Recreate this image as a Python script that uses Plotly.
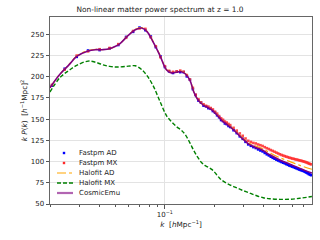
import plotly.graph_objects as go

# ---------------- data ----------------
k_fastpm = [0.0205, 0.0245, 0.029, 0.034, 0.040, 0.046, 0.052, 0.058, 0.064, 0.070,
            0.076, 0.082, 0.088, 0.094, 0.100, 0.106, 0.112, 0.118, 0.124, 0.130,
            0.136, 0.142, 0.148, 0.154, 0.160, 0.166, 0.172, 0.178, 0.184, 0.190,
            0.196, 0.202, 0.208, 0.214, 0.220, 0.226, 0.232, 0.238, 0.244, 0.250,
            0.262, 0.274, 0.286, 0.298, 0.310, 0.322, 0.334, 0.346, 0.358, 0.370,
            0.382, 0.394, 0.406, 0.418, 0.430, 0.442, 0.454, 0.466, 0.478, 0.490,
            0.502, 0.514, 0.526, 0.538, 0.550, 0.562, 0.574, 0.586, 0.598, 0.610,
            0.622, 0.634, 0.646, 0.658, 0.670, 0.682, 0.694, 0.706, 0.718, 0.730,
            0.742, 0.754, 0.766, 0.778]

kp_fastpm_ad = [189.5, 209.5, 223.5, 231, 231.5, 233.5, 237.5, 247, 253, 258,
                255, 247.5, 235, 224, 211.5, 206.5, 204.5, 206, 205.5, 205.5,
                200.5, 196.5, 185.5, 178.5, 172, 169.5, 166, 165.2, 163, 162.3,
                159.6, 157.8, 154.6, 152.3, 149, 147.8, 145, 144.2, 142, 140.8,
                137, 133.6, 129.8, 126.9, 123.3, 120.3, 118.6, 117.1, 116, 114.4,
                113.1, 112, 110.2, 108.6, 107.3, 105.8, 104.5, 103.4, 102.3, 101.3,
                100.4, 99.5, 98.7, 97.9, 97, 96.2, 95.3, 94.7, 94.1, 93.4,
                92.7, 92.1, 91.4, 90.7, 90.2, 89.6, 89.1, 88.5, 87.8, 87,
                86.2, 85.3, 84.7, 84]

kp_fastpm_mx = [190.5, 208.5, 225, 230, 232.5, 234, 238.5, 246, 254, 257,
                256.5, 246.5, 236, 223, 212.5, 207, 205.8, 206.5, 207.3, 206,
                202, 196.8, 187, 178.8, 173.5, 169.8, 167.6, 165.8, 164.8, 163.2,
                161.5, 158.8, 156.5, 153.6, 151, 149.3, 147.2, 146, 144.4, 143,
                139.8, 136.5, 133.2, 130.4, 127.2, 124.5, 123.2, 122, 121.4, 120.2,
                119.3, 118.4, 117, 115.8, 114.8, 113.6, 112.6, 111.6, 110.6, 109.6,
                108.6, 107.8, 107.1, 106.4, 105.8, 105.2, 104.6, 104.1, 103.6, 103.2,
                102.8, 102.4, 102, 101.6, 101.2, 100.8, 100.4, 100, 99.5, 99,
                98.4, 97.7, 97.3, 96.8]

k_theory = [0.0199, 0.0229, 0.026, 0.029, 0.034, 0.038, 0.042, 0.046, 0.050, 0.0535,
            0.0585, 0.0615, 0.066, 0.0721, 0.078, 0.085, 0.0933, 0.1024, 0.1098, 0.118,
            0.126, 0.134, 0.142, 0.150, 0.158, 0.167, 0.175, 0.184, 0.193, 0.2018,
            0.212, 0.2218, 0.2433, 0.2673, 0.2936, 0.3225, 0.354, 0.397, 0.436, 0.502,
            0.578, 0.665, 0.787]

kp_halofit_ad = [187, 203, 214.5, 224.5, 231, 232.5, 232, 233, 236, 239.5,
                 247.5, 251.5, 256, 258, 253.5, 241, 225.5, 208.5, 205, 206,
                 206.5, 203.5, 196.5, 182.5, 174, 169, 166, 164, 161.5, 158,
                 153.5, 149.2, 143.3, 136.8, 129, 122.3, 118.6, 115, 110.3, 104.6,
                 100, 95.5, 91]

kp_halofit_mx = [182, 199, 207.5, 213.5, 218.5, 217, 214, 212.3, 211.5, 211.7,
                 212.3, 212.8, 213, 208.5, 201, 189, 171, 154, 147, 141,
                 137, 131, 122, 113, 105.5, 99, 95.5, 93.3, 90.8, 87,
                 82, 78.2, 73.5, 70, 66.5, 63.5, 60.5, 57.4, 56.2, 55.5,
                 55.6, 56.8, 58.8]

kp_cosmicemu = [187, 203, 214, 224, 230.5, 232, 232, 233, 236, 239.5,
                247, 251, 255.5, 257.5, 253, 240.5, 225, 208, 204.6, 205.5,
                206, 203, 196, 182, 173.5, 168.5, 165.5, 163.5, 161, 157.5,
                153, 148.6, 142.7, 136, 128, 121, 117, 113, 108, 102,
                97, 92, 86.5]

series_names = ["Fastpm AD", "Fastpm MX", "Halofit AD", "Halofit MX", "CosmicEmu"]
y_ticks = [50, 75, 100, 125, 150, 175, 200, 225, 250]
x_major_ticks = [0.1]
x_major_labels = ["10<sup>\u22121</sup>"]
x_minor_ticks = [0.02, 0.03, 0.04, 0.05, 0.06, 0.07, 0.08, 0.09, 0.2, 0.3, 0.4, 0.5, 0.6, 0.7]

# ---------------- styles ----------------
C_BLUE = "#0000ff"
C_RED = "#ff2a2a"
C_ORANGE = "#ffa500"
C_GREEN = "#008000"
C_PURPLE = "#800080"
FONT = "DejaVu Sans"

fig = go.Figure()
fig.add_trace(go.Scatter(x=k_fastpm, y=kp_fastpm_ad, mode="markers", name=series_names[0],
                         marker=dict(color=C_BLUE, size=2.6, symbol="square"), showlegend=False))
fig.add_trace(go.Scatter(x=k_fastpm, y=kp_fastpm_mx, mode="markers", name=series_names[1],
                         marker=dict(color=C_RED, size=2.6, symbol="square", opacity=0.85), showlegend=False))
fig.add_trace(go.Scatter(x=k_theory, y=kp_halofit_ad, mode="lines", name=series_names[2],
                         line=dict(color=C_ORANGE, width=1.2, dash="dashdot", shape="spline"), showlegend=False))
fig.add_trace(go.Scatter(x=k_theory, y=kp_halofit_mx, mode="lines", name=series_names[3],
                         line=dict(color=C_GREEN, width=1.4, dash="4px,2px", shape="spline"), showlegend=False))
fig.add_trace(go.Scatter(x=k_theory, y=kp_cosmicemu, mode="lines", name=series_names[4],
                         line=dict(color=C_PURPLE, width=1.6, shape="spline"), showlegend=False))

# ---------------- layout ----------------
L, R, T, B = 50, 8, 17, 36
W, H = 320, 240
PW, PH = W - L - R, H - T - B

def px_x(px):
    return (px - L) / PW

def px_y(py):
    return (H - B - py) / PH

fig.update_layout(
    width=W, height=H,
    margin=dict(l=L, r=R, t=T, b=B, pad=0),
    paper_bgcolor="white", plot_bgcolor="white",
    font=dict(family=FONT, size=7, color="#222"),
    title=dict(text="Non-linear matter power spectrum at z = 1.0", x=px_x(181), xanchor="center",
               y=1 - 9.5 / H, yanchor="middle", font=dict(size=7.4, color="#222")),
    showlegend=False,
)
fig.update_xaxes(
    type="log", range=[-1.7005, -0.1035],
    tickvals=x_major_ticks, ticktext=x_major_labels,
    ticks="outside", ticklen=3.5, tickwidth=0.8, tickcolor="#555",
    minor=dict(tickvals=x_minor_ticks, ticks="outside", ticklen=2, tickwidth=0.6,
               tickcolor="#555", showgrid=False),
    showgrid=True, gridcolor="#e3e3e3", gridwidth=1,
    showline=True, linecolor="#666", linewidth=1, mirror=True,
    zeroline=False,
    title=dict(text="<i>k</i>  [<i>h</i>Mpc<sup>\u22121</sup>]", standoff=2, font=dict(size=7.3)),
)
fig.update_yaxes(
    range=[50, 270.5], tickvals=y_ticks,
    ticks="outside", ticklen=3.5, tickwidth=0.8, tickcolor="#555",
    showgrid=True, gridcolor="#e3e3e3", gridwidth=1,
    showline=True, linecolor="#666", linewidth=1, mirror=True,
    zeroline=False,
    title=dict(text="<i>k P</i>(<i>k</i>)  [<i>h</i><sup>\u22121</sup>Mpc]<sup>2</sup>", standoff=2,
               font=dict(size=7.3)),
)

# ---------------- legend (drawn by hand to match compact layout) ----------------
fig.add_shape(type="rect", xref="paper", yref="paper",
              x0=px_x(52), x1=px_x(123), y0=px_y(199), y1=px_y(146),
              fillcolor="rgba(255,255,255,0.85)", line=dict(width=0), layer="between")
rows = [153, 163, 173, 183, 193]
legend_styles = [
    ("marker", C_BLUE, None, 1),
    ("marker", C_RED, None, 1),
    ("line", C_ORANGE, "dashdot", 1.2),
    ("line", C_GREEN, "4px,2px", 1.4),
    ("line", C_PURPLE, "solid", 2.2),
]
for name, ry, (kind, col, dash, wid) in zip(series_names, rows, legend_styles):
    if kind == "marker":
        fig.add_shape(type="rect", xref="paper", yref="paper", xsizemode="pixel", ysizemode="pixel",
                      xanchor=px_x(64), yanchor=px_y(ry), x0=-1.2, x1=1.2, y0=-1.2, y1=1.2,
                      fillcolor=col, line=dict(width=0))
    else:
        fig.add_shape(type="line", xref="paper", yref="paper",
                      x0=px_x(57), x1=px_x(73), y0=px_y(ry), y1=px_y(ry),
                      line=dict(color=col, width=wid, dash=dash),
                      opacity=0.6 if name == "CosmicEmu" else 1)
    fig.add_annotation(text=name, xref="paper", yref="paper", x=px_x(77), y=px_y(ry),
                       xanchor="left", yanchor="middle", showarrow=False,
                       font=dict(size=7, color="#222"))

fig.write_html("out.html", config={"displayModeBar": False},
               post_script="document.body.style.margin='0';document.body.style.padding='0';")
